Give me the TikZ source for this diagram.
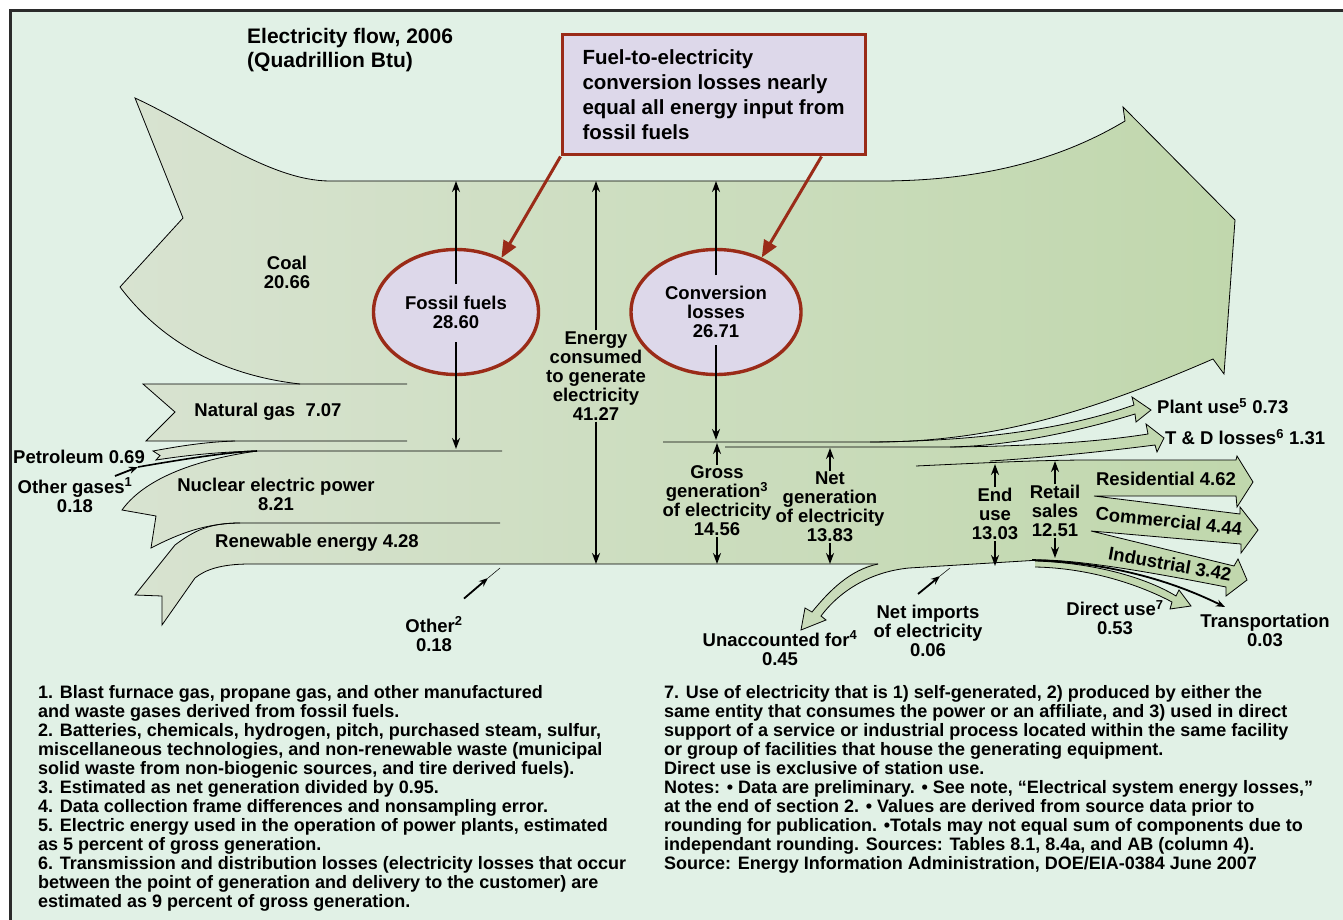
\documentclass[tikz,border=0pt]{standalone}
\usepackage{fontspec}
\setmainfont{Liberation Sans}
\usepackage{tikz}
\usetikzlibrary{arrows.meta,shapes.geometric,positioning}

\definecolor{paper}{HTML}{E1F1E6}
\definecolor{framecol}{HTML}{2B2B2B}
\definecolor{flowleft}{HTML}{D8E3D1}
\definecolor{flowright}{HTML}{C0D7AC}
\definecolor{lilac}{HTML}{DDD8EA}
\definecolor{rust}{HTML}{9A2B18}

\begin{document}
\begin{tikzpicture}[
    x=1pt, y=-1pt,
    >=Stealth,
    tag/.style={font=\fontsize{18.5}{19}\selectfont\bfseries, align=center, inner sep=1pt},
    note/.style={font=\fontsize{18}{19}\selectfont\bfseries, align=left, inner sep=0pt, anchor=north west},
    rim/.style={draw=black, line width=0.8pt},
    vflow/.style={line width=1.8pt, -{Stealth[length=11pt,width=8pt]}},
    pointer/.style={line width=1.8pt, -{Stealth[length=9pt,width=7pt]}},
    bubble/.style={
        ellipse,
        draw=rust,
        line width=3.4pt,
        fill=lilac,
        minimum height=125pt,
        inner sep=0pt,
        align=center,
        font=\fontsize{18.5}{19}\selectfont\bfseries
    },
    callbox/.style={
        rectangle,
        draw=rust,
        line width=3pt,
        fill=lilac,
        minimum width=303pt,
        minimum height=120pt,
        inner sep=0pt,
        align=left,
        font=\fontsize{20.5}{25}\selectfont\bfseries
    },
    redpointer/.style={draw=rust, line width=3pt, -{Triangle[length=17pt,width=14pt]}}
]
\useasboundingbox (0,0) rectangle (1343,920);

% PAPER AND FRAME
\fill[white] (0,0) rectangle (1343,920);
\fill[paper] (10,11) rectangle (1343,920);
\draw[framecol, line width=3pt] (10,920) -- (10,11) -- (1343,11);

% FLOW BODY (one shading over every band)
\begin{scope}
\clip
    % coal and conversion losses
    (135,98) .. controls (200,128) and (270,181) .. (330,181)
    -- (880,181) .. controls (980,181) and (1060,160) .. (1125,121)
    -- (1123,107) -- (1235,220) -- (1224,374) -- (1213,359)
    .. controls (1100,408) and (1000,441) .. (880,442)
    -- (880,564) -- (300,564) -- (300,384)
    .. controls (220,375) and (160,340) .. (120,287)
    -- (183,218) -- cycle
    % natural gas
    (143,384) -- (407,384) -- (407,441) -- (146,441) -- (175,412) -- cycle
    % petroleum
    (153,451) .. controls (180,446) and (205,442) .. (235,441)
    -- (305,441) -- (305,451) -- (257,451)
    .. controls (215,452) and (182,456) .. (156,460) -- (160,455.5) -- cycle
    % nuclear
    (122,510) .. controls (140,485) and (180,462) .. (257,451)
    -- (502,451) -- (502,523) -- (237,523)
    .. controls (205,524) and (180,533) .. (151,548) -- (156,516) -- cycle
    % renewable
    (135,595) -- (175,545) .. controls (195,530) and (210,523) .. (240,523)
    -- (510,523) -- (510,564) -- (250,564)
    .. controls (220,566) and (205,570) .. (195,578) -- (162,625) -- (162,596) -- cycle
    % outputs
    (870,442) .. controls (1000,441) and (1080,424) .. (1134,405)
    -- (1132,397) -- (1151,410) -- (1136,422) -- (1135,414)
    .. controls (1080,431) and (1010,446) .. (950,447)
    .. controls (1050,446) and (1110,440) .. (1148,434)
    -- (1146,424) -- (1164,438) -- (1157,452) -- (1155,445)
    .. controls (1100,452) and (1040,458) .. (990,461)
    .. controls (1030,460) and (1060,460) .. (1090,460)
    -- (1236,460) -- (1237,456) -- (1253,482) -- (1237,507) -- (1236,496)
    -- (1094,496) -- (1240,514) -- (1240,507) -- (1258,530) -- (1241,553) -- (1241,544)
    -- (1091,531) -- (1234,566) -- (1238,559) -- (1247,580) -- (1226,596) -- (1226,587)
    .. controls (1150,572) and (1080,560) .. (1040,560)
    -- (909,568) -- (870,564) -- cycle
    % direct use
    (1035,561) .. controls (1100,563) and (1150,580) .. (1176,596)
    -- (1179,590) -- (1191,606) -- (1170,609) -- (1172,602)
    .. controls (1140,585) and (1090,568) .. (1035,567) -- cycle
    % unaccounted for
    (878,562) -- (909,568) .. controls (868,572) and (838,593) .. (821,616)
    -- (826,620) -- (801,630) -- (805,608) -- (812,612)
    .. controls (830,590) and (850,570) .. (878,562) -- cycle;
\shade[left color=flowleft, right color=flowright] (110,90) rectangle (1265,640);
\end{scope}

% --- OUTLINES ---
\draw[rim] (120,287) -- (183,218) -- (135,98) .. controls (200,128) and (270,181) .. (330,181)
    -- (880,181) .. controls (980,181) and (1060,160) .. (1125,121)
    -- (1123,107) -- (1235,220) -- (1224,374) -- (1213,359)
    .. controls (1100,408) and (1000,441) .. (880,442) -- (663,442);
\draw[rim] (120,287) .. controls (160,340) and (220,375) .. (300,384);
\draw[rim] (407,384) -- (143,384) -- (175,412) -- (146,441) -- (407,441);
\draw[rim] (235,441) .. controls (205,442) and (180,446) .. (153,451) -- (160,455.5) -- (156,460)
    .. controls (182,456) and (215,452) .. (257,451);
\draw[rim] (502,451) -- (257,451) .. controls (180,462) and (140,485) .. (122,510)
    -- (156,516) -- (151,548) .. controls (180,533) and (205,524) .. (237,523) -- (500,523);
\draw[rim] (240,523) .. controls (210,523) and (195,530) .. (175,545) -- (135,595)
    -- (162,596) -- (162,625) -- (195,578) .. controls (205,570) and (220,564) .. (250,564) -- (878,564);
\draw[rim] (878,564) .. controls (850,570) and (830,590) .. (812,612) -- (805,608) -- (801,630)
    -- (826,620) -- (821,616) .. controls (838,593) and (868,572) .. (909,568) -- (1040,560);
\draw[rim] (870,442) .. controls (1000,441) and (1080,424) .. (1134,405)
    -- (1132,397) -- (1151,410) -- (1136,422) -- (1135,414)
    .. controls (1080,431) and (1010,446) .. (950,447);
\draw[rim] (725,447) -- (950,447) .. controls (1050,446) and (1110,440) .. (1148,434)
    -- (1146,424) -- (1164,438) -- (1157,452) -- (1155,445)
    .. controls (1100,452) and (1040,458) .. (990,461);
\draw[rim] (916,466) .. controls (980,463) and (1040,460) .. (1090,460)
    -- (1236,460) -- (1237,456) -- (1253,482) -- (1237,507) -- (1236,496)
    -- (1094,496) -- (1240,514) -- (1240,507) -- (1258,530) -- (1241,553) -- (1241,544)
    -- (1091,531) -- (1234,566) -- (1238,559) -- (1247,580) -- (1226,596) -- (1226,587)
    .. controls (1150,572) and (1080,560) .. (1040,560);
\draw[rim] (1035,561) .. controls (1100,563) and (1150,580) .. (1176,596)
    -- (1179,590) -- (1191,606) -- (1170,609) -- (1172,602)
    .. controls (1140,585) and (1090,568) .. (1035,567);

% ROW 1: title, callout and bubbles
\node[tag, align=left, anchor=west, font=\fontsize{21}{24}\selectfont\bfseries] (title) at (246,50) {Electricity flow, 2006\\(Quadrillion Btu)};
\node[callbox] (callout) at (713.5,95) {Fuel-to-electricity\\conversion losses nearly\\equal all energy input from\\fossil fuels};
\node[bubble, minimum width=165pt] (fossil) at (456,312) {Fossil fuels\\28.60};
\node[bubble, minimum width=170pt] (convloss) at (716,312) {Conversion\\losses\\26.71};
\node[tag] (econs) at (596,376) {Energy\\consumed\\to generate\\electricity\\41.27};

% ROW 2: sources
\node[tag] (coal) at (287,272) {Coal\\20.66};
\node[tag] (natgas) at (268,412) {Natural gas\ \ 7.07};
\node[tag, anchor=west] (petrol) at (12,457) {Petroleum 0.69};
\node[tag] (ogas) at (75,495) {Other gases\textsuperscript{1}\\0.18};
\node[tag] (nuclear) at (276,494) {Nuclear electric power\\8.21};
\node[tag] (renew) at (317,543) {Renewable energy 4.28};
\node[tag] (othtwo) at (434,634) {Other\textsuperscript{2}\\0.18};

% ROW 3: generation and uses
\node[tag] (gross) at (717,501) {Gross\\generation\textsuperscript{3}\\of electricity\\14.56};
\node[tag] (netgen) at (830,507) {Net\\generation\\of electricity\\13.83};
\node[tag] (enduse) at (995,514) {End\\use\\13.03};
\node[tag] (retail) at (1055,511) {Retail\\sales\\12.51};
\node[tag] (unacc) at (780,648) {Unaccounted for\textsuperscript{4}\\0.45};
\node[tag] (netimp) at (928,631) {Net imports\\of electricity\\0.06};
\node[tag] (direct) at (1115,618) {Direct use\textsuperscript{7}\\0.53};
\node[tag] (transp) at (1265,630) {Transportation\\0.03};
\node[tag, anchor=west] (plant) at (1156,406) {Plant use\textsuperscript{5} 0.73};
\node[tag, anchor=west] (tdloss) at (1164,437) {T \& D losses\textsuperscript{6}\ 1.31};
\node[tag] (resid) at (1166,479) {Residential 4.62};
\node[tag, rotate=-6] (comm) at (1169,521) {Commercial 4.44};
\node[tag, rotate=-10] (indus) at (1170,564) {Industrial 3.42};

% --- LINE ENDS ---
\coordinate (ftop) at (456,181);
\coordinate (fbot) at (456,449);
\coordinate (etop) at (596,181);
\coordinate (ebot) at (596,564);
\coordinate (ctop) at (716,181);
\coordinate (cbot) at (716,440);
\coordinate (gtop) at (717,443);
\coordinate (gbot) at (717,564);
\coordinate (ntop) at (830,448);
\coordinate (nbot) at (830,564);
\coordinate (utop) at (995,464);
\coordinate (ubot) at (995,566);
\coordinate (rtop) at (1055,461);
\coordinate (rbot) at (1055,558);
\coordinate (oghead) at (138,467);
\coordinate (ogtail) at (115,476);
\coordinate (ogjoin) at (257,451);
\coordinate (othhead) at (488,578);
\coordinate (othend) at (500,568);
\coordinate (nihead) at (940,576);
\coordinate (niend) at (950,568);
\coordinate (trstart) at (1032,560);
\coordinate (trend) at (1225,607);

% --- ARROWS ---
\draw[vflow] ([yshift=28pt]fossil.center) -- (ftop);
\draw[vflow] ([yshift=-30pt]fossil.center) -- (fbot);
\draw[vflow] (econs) -- (etop);
\draw[vflow] (econs) -- (ebot);
\draw[vflow] ([yshift=37pt]convloss.center) -- (ctop);
\draw[vflow] ([yshift=-33pt]convloss.center) -- (cbot);
\draw[vflow] (gross) -- (gtop);
\draw[vflow] (gross) -- (gbot);
\draw[vflow] (netgen) -- (ntop);
\draw[vflow] (netgen) -- (nbot);
\draw[vflow] (enduse) -- (utop);
\draw[vflow] (enduse) -- (ubot);
\draw[vflow] (retail) -- (rtop);
\draw[vflow] (retail) -- (rbot);

% small pointers
\draw[pointer] (ogtail) -- (oghead);
\draw[line width=1.6pt] (oghead) .. controls (190,458) and (230,452) .. (ogjoin);
\draw[pointer] ([shift={(30pt,17pt)}]othtwo.north) -- (othhead);
\draw[line width=0.5pt] (othhead) -- (othend);
\draw[pointer] ([shift={(-10pt,10pt)}]netimp.north) -- (nihead);
\draw[line width=0.5pt] (nihead) -- (niend);
\draw[pointer] (trstart) .. controls (1120,563) and (1180,585) .. (trend);

% callout pointers
\draw[redpointer] (callout.south west) -- (fossil.50);
\draw[redpointer] ([xshift=-45pt]callout.south east) -- (convloss.50);

% NOTES
\node[note] (notesleft) at (38,685) {1. Blast furnace gas, propane gas, and other manufactured\\
and waste gases derived from fossil fuels.\\
2. Batteries, chemicals, hydrogen, pitch, purchased steam, sulfur,\\
miscellaneous technologies, and non-renewable waste (municipal\\
solid waste from non-biogenic sources, and tire derived fuels).\\
3. Estimated as net generation divided by 0.95.\\
4. Data collection frame differences and nonsampling error.\\
5. Electric energy used in the operation of power plants, estimated\\
as 5 percent of gross generation.\\
6. Transmission and distribution losses (electricity losses that occur\\
between the point of generation and delivery to the customer) are\\
estimated as 9 percent of gross generation.};
\node[note] (notesright) at (664,685) {7. Use of electricity that is 1) self-generated, 2) produced by either the\\
same entity that consumes the power or an affiliate, and 3) used in direct\\
support of a service or industrial process located within the same facility\\
or group of facilities that house the generating equipment.\\
Direct use is exclusive of station use.\\
Notes: • Data are preliminary. • See note, “Electrical system energy losses,”\\
at the end of section 2. • Values are derived from source data prior to\\
rounding for publication. •Totals may not equal sum of components due to\\
independant rounding. Sources: Tables 8.1, 8.4a, and AB (column 4).\\
Source: Energy Information Administration, DOE/EIA-0384 June 2007};

\end{tikzpicture}
\end{document}
